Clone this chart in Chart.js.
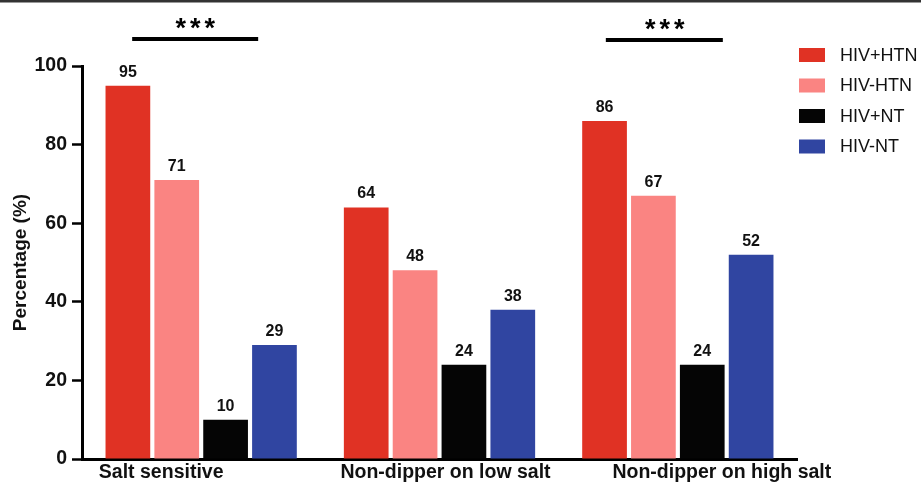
<!DOCTYPE html>
<html>
<head>
<meta charset="utf-8">
<script src="https://cdn.jsdelivr.net/npm/chart.js@4.4.1/dist/chart.umd.min.js"></script>
<style>
    html, body { margin: 0; padding: 0; background: #fff; }
    #chart { display: block; }
</style>
</head>
<body>
<canvas id="chart" width="921" height="483"></canvas>
<script>
// Chart data
const categories = ['Salt sensitive', 'Non-dipper on low salt', 'Non-dipper on high salt'];
const seriesNames = ['HIV+HTN', 'HIV-HTN', 'HIV+NT', 'HIV-NT'];
const hivPosHtn = [95, 64, 86];
const hivNegHtn = [71, 48, 67];
const hivPosNt = [10, 24, 24];
const hivNegNt = [29, 38, 52];
const yTicks = [0, 20, 40, 60, 80, 100];
const significance = [
    { category: 0, label: '***' },
    { category: 2, label: '***' }
];

const FONT = '"Liberation Sans", Arial, sans-serif';
const colors = ['#e03224', '#fa8482', '#050505', '#3045a1'];

// hand-tuned placement of the overlay text (layout only)
const xLabelOffsets = [-40, 6, 44];
const sigLayout = {
    0: { from: -69, to: 57, star: -6, y: 37 },
    2: { from: -72, to: 45, star: -13, y: 38 }
};

const overlay = {
    id: 'overlay',
    afterDraw(chart) {
        const ctx = chart.ctx;
        const xScale = chart.scales.x;
        ctx.save();

        // frame line along the top
        ctx.fillStyle = '#333';
        ctx.fillRect(0, 0, chart.width, 2.5);

        // values above bars
        ctx.font = 'bold 16px ' + FONT;
        ctx.fillStyle = '#111';
        ctx.textAlign = 'center';
        ctx.textBaseline = 'alphabetic';
        chart.data.datasets.forEach((ds, i) => {
            chart.getDatasetMeta(i).data.forEach((bar, j) => {
                ctx.fillText(ds.data[j], bar.x, bar.y - 9);
            });
        });

        // category labels (cut by the bottom edge like the original)
        ctx.font = 'bold 19.5px ' + FONT;
        categories.forEach((cat, i) => {
            ctx.fillText(cat, xScale.getPixelForValue(i) + xLabelOffsets[i], 478);
        });

        // significance bars
        significance.forEach(s => {
            const c = xScale.getPixelForValue(s.category);
            const l = sigLayout[s.category];
            ctx.fillStyle = '#000';
            ctx.fillRect(c + l.from, l.y, l.to - l.from, 4);
            ctx.font = 'bold 27px ' + FONT;
            for (let k = 0; k < s.label.length; k++) {
                ctx.fillText(s.label[k], c + l.star + (k - 1) * 14.5, l.y + 0);
            }
        });

        // legend
        ctx.font = '18px ' + FONT;
        ctx.textAlign = 'left';
        ctx.textBaseline = 'middle';
        chart.data.datasets.forEach((ds, i) => {
            const cy = 55 + i * 30.5;
            ctx.fillStyle = ds.backgroundColor;
            ctx.fillRect(799, cy - 7, 26, 14);
            ctx.fillStyle = '#111';
            ctx.fillText(ds.label, 840, cy + 1);
        });

        ctx.restore();
    }
};

const seriesData = [hivPosHtn, hivNegHtn, hivPosNt, hivNegNt];

new Chart(document.getElementById('chart').getContext('2d'), {
    type: 'bar',
    data: {
        labels: categories,
        datasets: seriesNames.map((name, i) => ({
            label: name,
            data: seriesData[i],
            backgroundColor: colors[i],
            borderWidth: 0,
            categoryPercentage: 0.82,
            barPercentage: 0.915
        }))
    },
    options: {
        responsive: false,
        animation: false,
        devicePixelRatio: 1,
        layout: {
            padding: { top: 66, right: 124, bottom: 0, left: 0 }
        },
        plugins: {
            legend: { display: false },
            tooltip: { enabled: false }
        },
        scales: {
            x: {
                grid: { display: false, drawTicks: false },
                border: { display: true, color: '#000', width: 3 },
                ticks: { display: false },
                afterFit: function(scale) {
                    scale.height = 24;
                }
            },
            y: {
                min: 0,
                max: 100,
                afterBuildTicks: function(scale) {
                    scale.ticks = yTicks.map(v => ({ value: v }));
                },
                grid: {
                    drawOnChartArea: false,
                    drawTicks: true,
                    tickLength: 10,
                    tickWidth: 2.5,
                    tickColor: '#000'
                },
                border: { display: true, color: '#000', width: 3 },
                ticks: {
                    padding: 5,
                    color: '#111',
                    font: { family: FONT, size: 19.5, weight: 'bold' }
                },
                title: {
                    display: true,
                    text: 'Percentage (%)',
                    color: '#111',
                    padding: { top: 9, bottom: 0 },
                    font: { family: FONT, size: 19, weight: 'bold' }
                },
                afterFit: function(scale) {
                    scale.width = 82;
                }
            }
        }
    },
    plugins: [overlay]
});
</script>
</body>
</html>
